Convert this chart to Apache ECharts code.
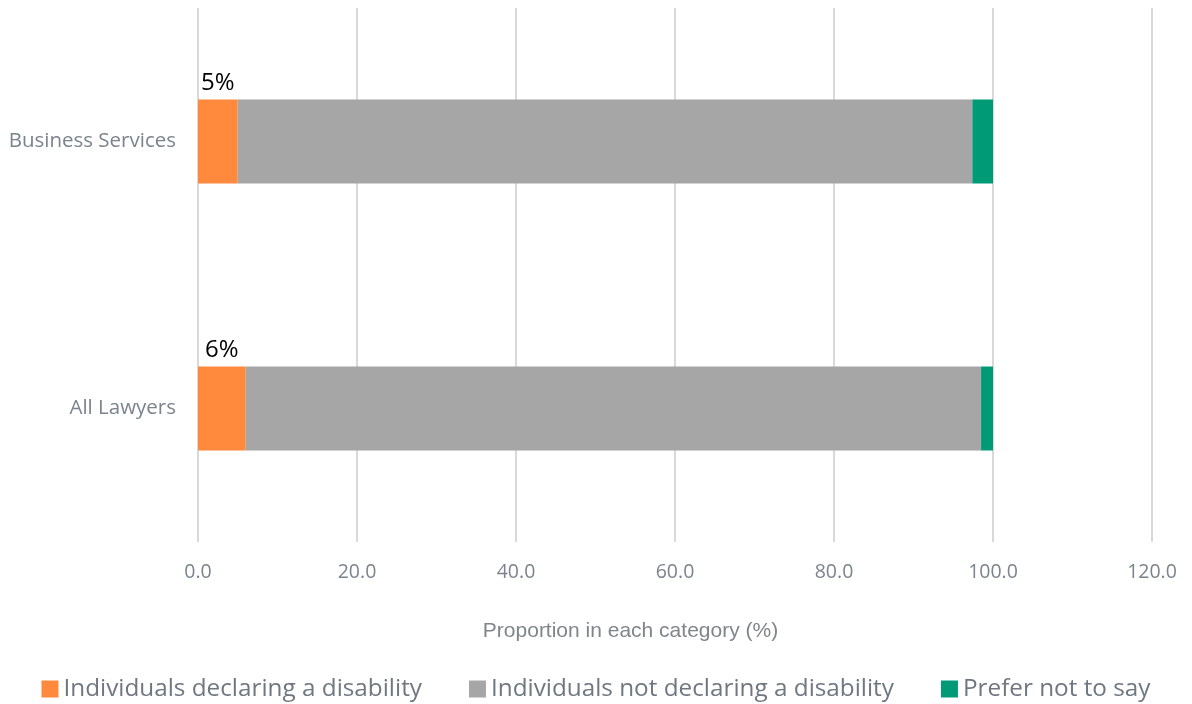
<!DOCTYPE html>
<html>
<head>
<meta charset="utf-8">
<script src="https://cdn.jsdelivr.net/npm/echarts@6/dist/echarts.min.js"></script>
<style>
html,body{margin:0;padding:0;background:#fff;}
#chart{width:1192px;height:704px;}
</style>
</head>
<body>
<div id="chart"></div>
<script>
// Disability declaration by staff group (percent)
const categories = ['All Lawyers', 'Business Services'];
const declaring = [6, 5];
const notDeclaring = [92.5, 92.4];
const preferNot = [1.5, 2.6];
const xTicks = [0, 20, 40, 60, 80, 100, 120];

const seriesNames = [
  'Individuals declaring a disability',
  'Individuals not declaring a disability',
  'Prefer not to say'
];
const colors = ['#ff8a3d', '#a6a6a6', '#009a76'];

const chart = echarts.init(document.getElementById('chart'));
chart.setOption({
  animation: false,
  backgroundColor: '#fff',
  color: colors,
  grid: { left: 198, right: 40, top: 8, bottom: 162 },
  xAxis: {
    type: 'value',
    min: xTicks[0],
    max: xTicks[xTicks.length - 1],
    interval: 20,
    name: 'Proportion in each category (%)',
    nameLocation: 'middle',
    nameGap: 79,
    // extra right padding moves the title left of the plot centre
    nameTextStyle: {
      fontFamily: 'Liberation Sans', fontSize: 21, color: '#80858c',
      padding: [0, 89, 0, 0]
    },
    axisLine: { show: false },
    axisTick: { show: false },
    axisLabel: {
      margin: 20,
      fontFamily: 'Open Sans',
      fontSize: 19.5,
      color: '#7b838c',
      formatter: v => v.toFixed(1)
    },
    splitLine: { lineStyle: { color: '#d9d9d9', width: 2 } }
  },
  yAxis: {
    type: 'category',
    data: categories,
    axisLine: { show: false },
    axisTick: { show: false },
    axisLabel: { margin: 22, fontFamily: 'Open Sans', fontSize: 20.5, color: '#7b838c' }
  },
  legend: {
    bottom: -2,
    left: 'center',
    itemWidth: 17,
    itemHeight: 17,
    itemGap: 47,
    icon: 'rect',
    textStyle: { fontFamily: 'Open Sans', fontSize: 24.3, color: '#6f7780' },
    data: seriesNames
  },
  series: [
    {
      name: seriesNames[0], type: 'bar', stack: 'total', barWidth: 84,
      data: declaring,
      label: {
        show: true, position: 'top', distance: 4,
        fontFamily: 'Open Sans', fontSize: 24, color: '#000',
        formatter: p => p.value + '%'
      }
    },
    { name: seriesNames[1], type: 'bar', stack: 'total', barWidth: 84, data: notDeclaring },
    { name: seriesNames[2], type: 'bar', stack: 'total', barWidth: 84, data: preferNot }
  ]
});
</script>
</body>
</html>
